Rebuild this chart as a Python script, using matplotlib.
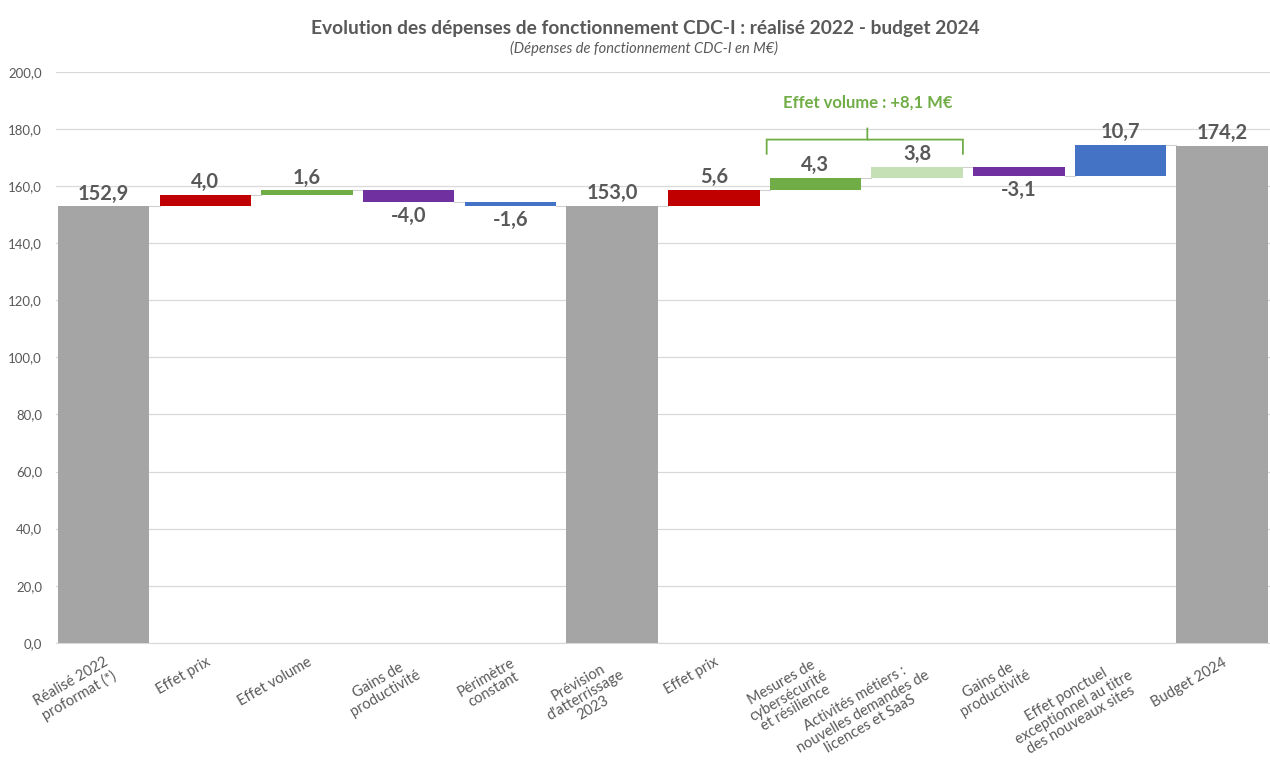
import matplotlib
matplotlib.use("Agg")
import matplotlib.pyplot as plt
from matplotlib.path import Path
from matplotlib.patches import PathPatch

# data
categories = [
    "Réalisé 2022\nproformat (*)", "Effet prix", "Effet volume",
    "Gains de\nproductivité", "Périmètre\nconstant",
    "Prévision\nd'atterrissage\n2023", "Effet prix",
    "Mesures de\ncybersécurité\net résilience",
    "Activités métiers :\nnouvelles demandes de\nlicences et SaaS",
    "Gains de\nproductivité",
    "Effet ponctuel\nexceptionnel au titre\ndes nouveaux sites",
    "Budget 2024",
]
values = [152.9, 4.0, 1.6, -4.0, -1.6, 153.0, 5.6, 4.3, 3.8, -3.1, 10.7, 174.2]
is_total = [True, False, False, False, False, True, False, False, False, False, False, True]
labels = ["152,9", "4,0", "1,6", "-4,0", "-1,6", "153,0", "5,6", "4,3", "3,8", "-3,1", "10,7", "174,2"]
bracket_text = "Effet volume : +8,1 M€"

colors = ["#A5A5A5", "#C00000", "#70AD47", "#7030A0", "#4472C4", "#A5A5A5",
          "#C00000", "#70AD47", "#C5E0B4", "#7030A0", "#4472C4", "#A5A5A5"]

plt.rcParams['font.family'] = ['Lato', 'DejaVu Sans']
txt = "#595959"

fig = plt.figure(figsize=(12.7, 7.82), dpi=100)
ax = fig.add_axes([0.044, 0.178, 0.956, 0.73])

# waterfall
bottoms, heights, ends = [], [], []
run = 0.0
for v, tot in zip(values, is_total):
    if tot:
        bottoms.append(0.0)
        heights.append(v)
        run = v
    else:
        bottoms.append(min(run, run + v))
        heights.append(abs(v))
        run = run + v
    ends.append(run)

x = list(range(len(values)))
w = 0.9
ax.bar(x, heights, bottom=bottoms, width=w, color=colors, zorder=3)

# connectors
for i in range(len(values) - 1):
    ax.plot([i + w / 2, i + 1 - w / 2], [ends[i], ends[i]], color="#D0D0D0", lw=0.8, zorder=2)

# value labels
for i, (v, tot) in enumerate(zip(values, is_total)):
    top = bottoms[i] + heights[i]
    if tot or v >= 0:
        ax.text(i, top + 1.0, labels[i], ha="center", va="bottom", fontsize=14.5,
                fontweight="bold", color=txt, zorder=4)
    else:
        ax.text(i, bottoms[i] - 1.3, labels[i], ha="center", va="top", fontsize=14.5,
                fontweight="bold", color=txt, zorder=4)

# curly bracket over the two volume bars
xl, xr, xm = 6.52, 8.45, 7.51
yb, yh, yt = 171.0, 176.3, 180.5
r = 0.06
verts = [
    (xl, yb), (xl, yh), (xl, yh), (xl + r, yh),
    (xm - r, yh), (xm, yh), (xm, yh), (xm, yt),
    (xm, yh), (xm, yh), (xm + r, yh),
    (xr - r, yh), (xr, yh), (xr, yh), (xr, yb),
]
codes = [Path.MOVETO, Path.LINETO, Path.CURVE3, Path.CURVE3,
         Path.LINETO, Path.CURVE3, Path.CURVE3, Path.LINETO,
         Path.MOVETO, Path.CURVE3, Path.CURVE3,
         Path.LINETO, Path.CURVE3, Path.CURVE3, Path.LINETO]
ax.add_patch(PathPatch(Path(verts, codes), fill=False, edgecolor="#70AD47", lw=1.3, zorder=4))
ax.text(xm, 186.5, bracket_text, ha="center", va="bottom", fontsize=12,
        fontweight="bold", color="#70AD47")

# axes styling
ax.set_ylim(0, 200)
ax.set_xlim(-0.47, 11.47)
ax.set_yticks(range(0, 201, 20))
ax.set_yticklabels([f"{t:.1f}".replace(".", ",") for t in range(0, 201, 20)],
                   fontsize=9.5, color=txt)
ax.yaxis.grid(True, color="#D9D9D9", lw=0.9, zorder=0)
ax.set_axisbelow(True)
for s in ["left", "right", "top"]:
    ax.spines[s].set_visible(False)
ax.spines["bottom"].set_color("#D9D9D9")
ax.tick_params(axis="both", length=0)
ax.tick_params(axis="y", pad=10)

ax.set_xticks(x)
ax.set_xticklabels(categories, rotation=30, ha="right", rotation_mode="anchor",
                   multialignment="center", fontsize=10.5, color=txt, linespacing=1.05)
ax.tick_params(axis="x", pad=9)

fig.text(0.508, 0.963, "Evolution des dépenses de fonctionnement CDC-I : réalisé 2022 - budget 2024",
         ha="center", va="center", fontsize=13.8, fontweight="bold", color=txt)
fig.text(0.507, 0.938, "(Dépenses de fonctionnement CDC-I en M€)",
         ha="center", va="center", fontsize=10.5, style="italic", color=txt)

fig.savefig("out.png", dpi=100)
